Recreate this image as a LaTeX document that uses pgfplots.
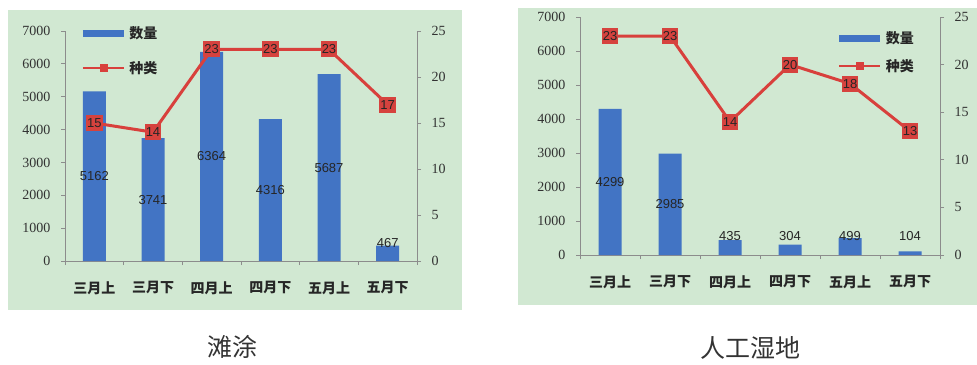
\documentclass[border=0pt]{standalone}
\usepackage{pgfplots}
\pgfplotsset{compat=1.18}
\usepackage{pgfplotstable}
\usepackage{fontspec}
\setmainfont{Liberation Sans}
\newfontfamily\cjk{Noto Sans CJK SC}
\newfontfamily\numf{Liberation Serif}
\definecolor{bgc}{RGB}{209,232,210}
\definecolor{barc}{RGB}{66,116,196}
\definecolor{redc}{RGB}{216,64,60}
\definecolor{boxc}{RGB}{214,66,62}
\definecolor{axc}{RGB}{140,140,140}
\definecolor{tkc}{RGB}{50,50,50}

\pgfplotstableread{
x v ly s
0 5162 2581 15
1 3741 1870 14
2 6364 3182 23
3 4316 2158 23
4 5687 2843 23
5 467 550 17
}\tudata

\pgfplotstableread{
x v ly s
0 4299 2150 23
1 2985 1492 23
2 435 560 14
3 304 560 20
4 499 560 18
5 104 560 13
}\rgdata

\pgfplotsset{
  basebar/.style={
    scale only axis, anchor=south west,
    xmin=-0.5, xmax=5.5, ymin=0, ymax=7000,
    axis x line*=bottom, axis y line*=left,
    axis line style={draw=axc, line width=0.8bp},
    ytick={0,1000,...,7000},
    xtick={0,...,5},
    xticklabels={三月上,三月下,四月上,四月下,五月上,五月下},
    minor xtick={-0.5,0.5,...,5.5},
    tick align=outside,
    major tick length=4bp, minor tick length=4bp,
    major x tick style={draw=none},
    minor x tick style={draw=axc, line width=0.8bp},
    y tick style={draw=axc, line width=0.8bp},
    scaled y ticks=false,
    /pgf/number format/assume math mode=true,
    /pgf/number format/1000 sep={},
    yticklabel style={font=\numf\fontsize{14bp}{16bp}\selectfont, text=tkc, xshift=-7bp},
    xticklabel style={font=\cjk\bfseries\fontsize{14bp}{16bp}\selectfont, text=black!85, yshift=-13bp},
  },
  baseline/.style={
    scale only axis, anchor=south west,
    xmin=-0.5, xmax=5.5, ymin=0, ymax=25,
    axis y line*=right, axis x line=none,
    axis line style={draw=axc, line width=0.8bp},
    ytick={0,5,...,25},
    tick align=outside,
    major tick length=4bp,
    y tick style={draw=axc, line width=0.8bp},
    /pgf/number format/assume math mode=true,
    yticklabel style={font=\numf\fontsize{14bp}{16bp}\selectfont, text=tkc, xshift=7bp},
    legend cell align=left,
  },
  barplot/.style={ybar, bar width=23bp, bar shift=0pt, fill=barc, draw=none},
  barlab/.style={draw=none, mark=none, nodes near coords={\pgfplotspointmeta}, point meta=explicit symbolic,
    every node near coord/.append style={anchor=center, font=\fontsize{13bp}{15bp}\selectfont, text=black!85}},
  lineplot/.style={draw=redc, line width=3bp, mark=none, nodes near coords={\pgfplotspointmeta}, point meta=explicit symbolic,
    every node near coord/.append style={anchor=center, fill=boxc, text=black!85, inner xsep=1.2bp, inner ysep=0pt,
      minimum height=16bp, font=\fontsize{13bp}{15bp}\selectfont}},
  barleg/.style={legend image code/.code={\draw[line width=7bp, barc] (0bp,0bp) -- (41bp,0bp);}},
  lineleg/.style={legend image code/.code={\draw[line width=1.6bp, redc] (0bp,0bp) -- (41bp,0bp);
      \fill[redc] (17bp,-3.5bp) rectangle (24bp,3.5bp);}},
}

\begin{document}
\begin{tikzpicture}[x=1bp,y=1bp]
\useasboundingbox (0,0) rectangle (977,364);
\fill[bgc] (8,54) rectangle (462,354);
\fill[bgc] (518,59) rectangle (977,356);

% ---- left panel: 滩涂
\begin{axis}[basebar, at={(65bp,103bp)}, width=352bp, height=230bp]
\addplot[barplot] table[x=x, y=v] {\tudata};
\addplot[barlab] table[x=x, y=ly, meta=v] {\tudata};
\end{axis}
\begin{axis}[baseline, at={(65bp,103bp)}, width=352bp, height=230bp,
  legend style={at={(0.04,1.028)}, anchor=north west, draw=none, fill=none, inner sep=0pt,
    row sep=17bp, font=\cjk\bfseries\fontsize{14bp}{16bp}\selectfont, text=black!85}]
\addlegendimage{barleg}\addlegendentry{数量}
\addlegendimage{lineleg}\addlegendentry{种类}
\addplot[lineplot, forget plot] table[x=x, y=s, meta=s] {\tudata};
\end{axis}

% ---- right panel: 人工湿地
\begin{axis}[basebar, at={(580bp,109bp)}, width=360bp, height=238bp]
\addplot[barplot] table[x=x, y=v] {\rgdata};
\addplot[barlab] table[x=x, y=ly, meta=v] {\rgdata};
\end{axis}
\begin{axis}[baseline, at={(580bp,109bp)}, width=360bp, height=238bp,
  legend style={at={(0.71,0.947)}, anchor=north west, draw=none, fill=none, inner sep=0pt,
    row sep=10bp, font=\cjk\bfseries\fontsize{14bp}{16bp}\selectfont, text=black!85}]
\addlegendimage{barleg}\addlegendentry{数量}
\addlegendimage{lineleg}\addlegendentry{种类}
\addplot[lineplot, forget plot] table[x=x, y=s, meta=s] {\rgdata};
\end{axis}

\node[font=\cjk\fontsize{25bp}{27bp}\selectfont, text=black!80] at (232,17) {滩涂};
\node[font=\cjk\fontsize{25bp}{27bp}\selectfont, text=black!80] at (750,16) {人工湿地};
\end{tikzpicture}
\end{document}
